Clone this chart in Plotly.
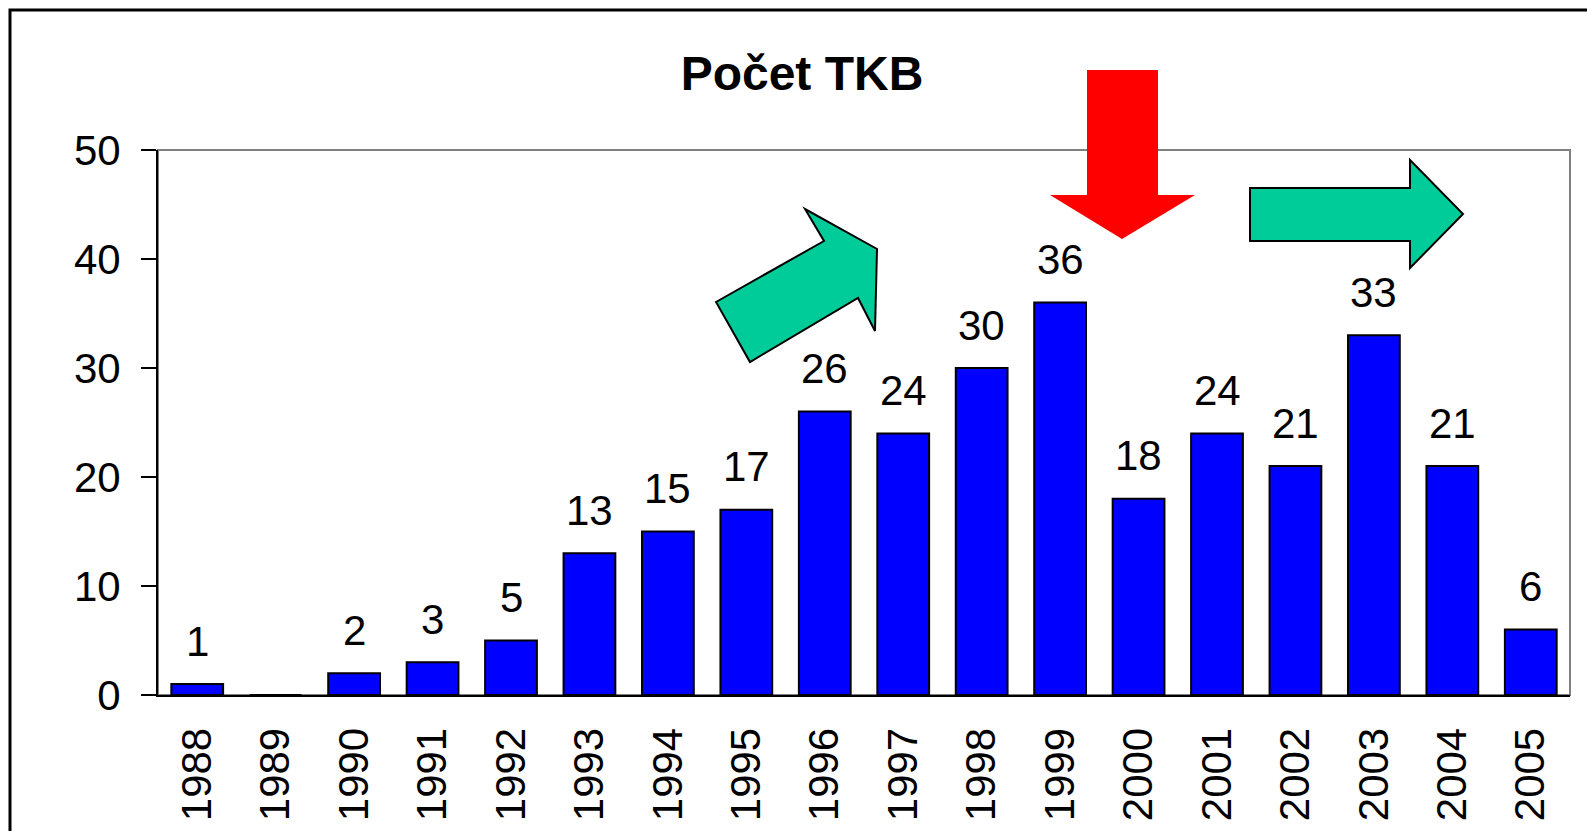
import plotly.graph_objects as go

years = ["1988", "1989", "1990", "1991", "1992", "1993", "1994", "1995", "1996",
         "1997", "1998", "1999", "2000", "2001", "2002", "2003", "2004", "2005"]
counts = [1, 0, 2, 3, 5, 13, 15, 17, 26, 24, 30, 36, 18, 24, 21, 33, 21, 6]
y_ticks = [0, 10, 20, 30, 40, 50]

# page has an 8px body margin; figure coords = page coords - 8
OFF = 8
W, H = 1584, 823
L, R, T, B = 158 - OFF, W - (1570 - OFF), 150 - OFF, H - (695 - OFF)
PW, PH = W - L - R, H - T - B

def px(x):  # x in page pixels
    return (x - OFF - L) / PW

def py(y):
    return (H - B - (y - OFF)) / PH

def path(points):
    return "M " + " L ".join(f"{px(x):.5f},{py(y):.5f}" for x, y in points) + " Z"

FONT = "Liberation Sans, Arial, sans-serif"

fig = go.Figure()
fig.add_trace(go.Bar(
    x=years, y=counts,
    marker=dict(color="#0000FF", line=dict(color="black", width=2)),
    hoverinfo="x+y",
))

annotations = []
for i, (yr, v) in enumerate(zip(years, counts)):
    if v > 0:
        annotations.append(dict(x=i, y=v, xref="x", yref="y", text=str(v),
                                showarrow=False, yanchor="middle", yshift=43,
                                font=dict(size=42, color="black", family=FONT)))

shapes = [
    dict(type="rect", xref="paper", yref="paper", x0=0, y0=0, x1=1, y1=1,
         line=dict(color="#808080", width=2), layer="below"),
    dict(type="rect", xref="paper", yref="paper", x0=px(10), y0=py(870), x1=px(1590), y1=py(10),
         line=dict(color="black", width=3), layer="above"),
    dict(type="path", xref="paper", yref="paper",
         path=path([(716, 302), (824, 241), (805, 209), (877, 249), (875, 331), (858, 298), (750, 362)]),
         fillcolor="#00CC99", line=dict(color="black", width=2), layer="above"),
    dict(type="path", xref="paper", yref="paper",
         path=path([(1087, 70), (1158, 70), (1158, 195), (1195, 195), (1122, 239), (1050, 195), (1087, 195)]),
         fillcolor="#FF0000", line=dict(color="#FF0000", width=0), layer="above"),
    dict(type="path", xref="paper", yref="paper",
         path=path([(1250, 188), (1410, 188), (1410, 160), (1463, 214), (1410, 268), (1410, 241), (1250, 241)]),
         fillcolor="#00CC99", line=dict(color="black", width=2), layer="above"),
]

fig.update_layout(
    width=W, height=H,
    margin=dict(l=L, r=R, t=T, b=B, pad=0, autoexpand=False),
    paper_bgcolor="white", plot_bgcolor="white",
    showlegend=False,
    bargap=0.34,
    title=dict(text="<b>Počet TKB</b>", x=(802 - OFF) / W, xanchor="center", xref="container",
               y=1 - (73 - OFF) / H, yanchor="middle", yref="container",
               font=dict(size=48, color="black", family=FONT)),
    font=dict(family=FONT, color="black"),
    annotations=annotations,
    shapes=shapes,
)

fig.update_xaxes(
    type="category", range=[-0.5, len(years) - 0.5], autorange=False, automargin=False,
    showline=True, linecolor="black", linewidth=2,
    ticks="", tickangle=-90, tickfont=dict(size=42, family=FONT, color="black"),
    ticklabelstandoff=14, showgrid=False, zeroline=False,
)
fig.update_yaxes(
    range=[0, 50], autorange=False, automargin=False, tickvals=y_ticks,
    showline=True, linecolor="black", linewidth=2,
    ticks="outside", ticklen=15, tickwidth=2, tickcolor="black",
    tickfont=dict(size=42, family=FONT, color="black"),
    ticklabelstandoff=12, showgrid=False, zeroline=False,
)

fig.write_html("out.html")
